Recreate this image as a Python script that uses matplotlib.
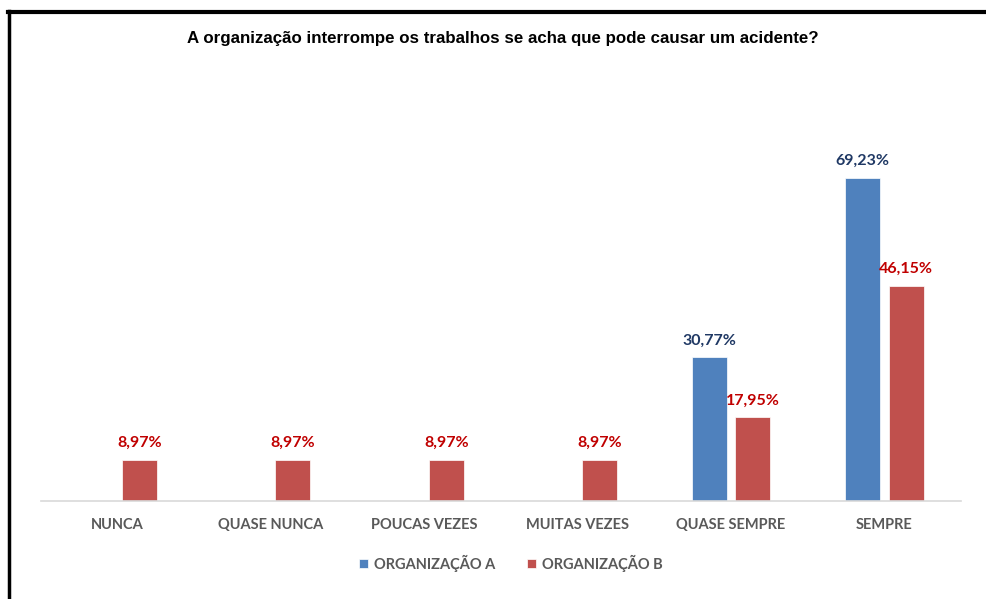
import matplotlib.pyplot as plt
import numpy as np

# data
categorias = ["NUNCA", "QUASE NUNCA", "POUCAS VEZES", "MUITAS VEZES", "QUASE SEMPRE", "SEMPRE"]
org_a = [0, 0, 0, 0, 30.77, 69.23]
org_b = [8.97, 8.97, 8.97, 8.97, 17.95, 46.15]
series = ["ORGANIZAÇÃO A", "ORGANIZAÇÃO B"]
titulo = "A organização interrompe os trabalhos se acha que pode causar um acidente?"

azul = "#4F81BD"
vermelho = "#C0504D"
cor_rot_a = "#1F3864"
cor_rot_b = "#C00000"
cinza = "#595959"
fonte = "Lato"

fig = plt.figure(figsize=(9.86, 5.99), dpi=100)
ax = fig.add_axes([0.0416, 0.1628, 0.933, 0.625])

x = np.arange(len(categorias))
w = 0.228
off = 0.143

def rotulo(v):
    return f"{v:.2f}%".replace(".", ",")

for vals, dx, cor, cor_txt, nome in [(org_a, -off, azul, cor_rot_a, series[0]),
                                      (org_b, off, vermelho, cor_rot_b, series[1])]:
    ax.bar(x + dx, vals, width=w, color=cor, edgecolor="white", linewidth=0.5, label=nome)
    for xi, v in zip(x, vals):
        if v > 0:
            ax.annotate(rotulo(v), (xi + dx, v), xytext=(0, 7), textcoords="offset points",
                        ha="center", va="bottom", color=cor_txt, fontsize=11.5,
                        fontweight="bold", family=fonte)

ax.set_xlim(-0.5, len(categorias) - 0.5)
ax.set_ylim(0, 80)
ax.set_yticks([])
ax.set_xticks(x)
ax.set_xticklabels(categorias, color=cinza, fontsize=10.5, fontweight="bold", family=fonte)
ax.tick_params(axis="x", length=0, pad=12)
for s in ["top", "right", "left"]:
    ax.spines[s].set_visible(False)
ax.spines["bottom"].set_color("#D9D9D9")
ax.spines["bottom"].set_linewidth(1.2)

fig.text(0.51, 0.936, titulo, ha="center", va="center", fontsize=12.15,
         fontweight="bold", family="Liberation Sans", color="black")

leg = fig.legend(loc="center", bbox_to_anchor=(0.518, 0.06), ncol=2, frameon=False,
                 handlelength=0.6, handleheight=0.6, handletextpad=0.4, columnspacing=2.2,
                 prop={"family": fonte, "weight": "bold", "size": 10.5})
for t in leg.get_texts():
    t.set_color(cinza)

# moldura: linha superior e esquerda
fig.add_artist(plt.Line2D([0.0085, 1.0], [0.98, 0.98], color="black", lw=3, transform=fig.transFigure))
fig.add_artist(plt.Line2D([0.0095, 0.0095], [0.0, 0.981], color="black", lw=2.5, transform=fig.transFigure))

fig.savefig("out.png", dpi=100, facecolor="white")
